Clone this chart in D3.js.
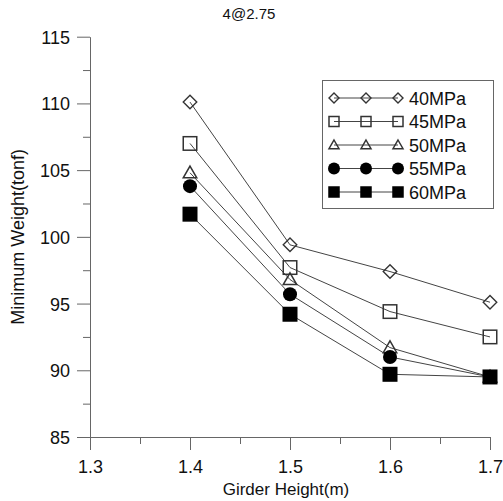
<!DOCTYPE html>
<html><head><meta charset="utf-8">
<script src="https://cdn.jsdelivr.net/npm/d3@7/dist/d3.min.js"></script>
<style>body{margin:0;background:#fff}svg{display:block;font-family:"Liberation Sans",Arial,sans-serif}</style>
</head><body><svg id="c" width="503" height="501"></svg>
<script>
const heights = [1.4, 1.5, 1.6, 1.7];
const seriesNames = ["40MPa", "45MPa", "50MPa", "55MPa", "60MPa"];
const s40 = [110.1, 99.4, 97.4, 95.1];
const s45 = [107.0, 97.7, 94.4, 92.5];
const s50 = [104.8, 96.8, 91.7, 89.5];
const s55 = [103.8, 95.7, 91.0, 89.5];
const s60 = [101.7, 94.2, 89.7, 89.5];
const seriesValues = [s40, s45, s50, s55, s60];
const markerTypes = ["diamond", "square", "triangle", "circle", "fsquare"];
const xTicks = [1.3, 1.4, 1.5, 1.6, 1.7];
const yTicks = [85, 90, 95, 100, 105, 110, 115];
const title = "4@2.75";
const xLabel = "Girder Height(m)";
const yLabel = "Minimum Weight(tonf)";

const FONT = "'Liberation Sans', Arial, sans-serif";
const svg = d3.select("#c");
const x = d3.scaleLinear().domain([1.3, 1.7]).range([90, 490]);
const y = d3.scaleLinear().domain([85, 115]).range([437, 36.7]);
const axisColor = "#666";

const xMinor = d3.range(1.35, 1.7, 0.1);
const yMinor = d3.range(87.5, 115, 5);
const gx = svg.append("g").attr("transform", `translate(0,${y(85)})`)
  .call(d3.axisBottom(x).tickValues(xTicks).tickFormat(d3.format(".1f")).tickSize(13).tickSizeOuter(0));
svg.append("g").attr("transform", `translate(0,${y(85)})`)
  .call(d3.axisBottom(x).tickValues(xMinor).tickFormat("").tickSize(7).tickSizeOuter(0))
  .select(".domain").remove();
const gy = svg.append("g").attr("transform", `translate(${x(1.3)},0)`)
  .call(d3.axisLeft(y).tickValues(yTicks).tickSize(13).tickSizeOuter(0));
svg.append("g").attr("transform", `translate(${x(1.3)},0)`)
  .call(d3.axisLeft(y).tickValues(yMinor).tickFormat("").tickSize(7).tickSizeOuter(0))
  .select(".domain").remove();
svg.selectAll("g").attr("font-family", FONT);
svg.selectAll(".domain, .tick line").attr("stroke", axisColor);
gx.selectAll("text").attr("font-size", 18).attr("fill", "#111").attr("dy", "0.72em").attr("y", 23);
gy.selectAll("text").attr("font-size", 18).attr("fill", "#111").attr("x", -20).attr("dy", "0.36em");

svg.append("text").attr("x", 249).attr("y", 19).attr("text-anchor", "middle")
  .attr("font-family", FONT).attr("font-size", 15).attr("fill", "#111").text(title);
svg.append("text").attr("x", 286).attr("y", 495).attr("text-anchor", "middle")
  .attr("font-family", FONT).attr("font-size", 17).attr("fill", "#111").text(xLabel);
svg.append("text").attr("transform", `translate(24,${y(100)}) rotate(-90)`)
  .attr("text-anchor", "middle").attr("font-family", FONT).attr("font-size", 18).attr("fill", "#111").text(yLabel);

function drawMarker(g, type, cx, cy, s) {
  const stroke = "#333";
  if (type === "diamond") {
    const h = s / 2;
    g.append("path").attr("d", `M${cx},${cy-h}L${cx+h},${cy}L${cx},${cy+h}L${cx-h},${cy}Z`)
      .attr("fill", "none").attr("stroke", stroke).attr("stroke-width", 1.4);
  } else if (type === "square" || type === "fsquare") {
    const h = s / 2;
    g.append("rect").attr("x", cx-h).attr("y", cy-h).attr("width", s).attr("height", s)
      .attr("fill", type === "fsquare" ? "#000" : "none").attr("stroke", type === "fsquare" ? "#000" : stroke).attr("stroke-width", 1.5);
  } else if (type === "triangle") {
    const h = s / 2;
    g.append("path").attr("d", `M${cx},${cy-h}L${cx+h},${cy+h*0.75}L${cx-h},${cy+h*0.75}Z`)
      .attr("fill", "none").attr("stroke", stroke).attr("stroke-width", 1.5);
  } else if (type === "circle") {
    g.append("circle").attr("cx", cx).attr("cy", cy).attr("r", s/2).attr("fill", "#000");
  }
}

const line = d3.line().x((d,i)=>x(heights[i])).y(d=>y(d));
const plot = svg.append("g");
seriesValues.forEach((vals) => {
  plot.append("path").attr("d", line(vals)).attr("fill", "none").attr("stroke", "#444").attr("stroke-width", 1);
});
seriesValues.forEach((vals, si) => {
  vals.forEach((v, i) => drawMarker(plot, markerTypes[si], x(heights[i]), y(v), si === 3 ? 14 : 13.5));
});

const lg = svg.append("g");
lg.append("rect").attr("x", 322.5).attr("y", 80.5).attr("width", 171).attr("height", 128)
  .attr("fill", "#fff").attr("stroke", axisColor).attr("stroke-width", 1);
const legX = [334, 366, 398];
seriesNames.forEach((name, si) => {
  const ly = 98 + si * 23.5;
  lg.append("line").attr("x1", legX[0]).attr("x2", legX[2]).attr("y1", ly).attr("y2", ly)
    .attr("stroke", "#444").attr("stroke-width", 1);
  legX.forEach(lx => drawMarker(lg, markerTypes[si], lx, ly, si === 3 ? 12 : 10));
  lg.append("text").attr("x", 409).attr("y", ly + 6.5).attr("font-family", FONT).attr("font-size", 18).attr("fill", "#111").text(name);
});
</script></body></html>
